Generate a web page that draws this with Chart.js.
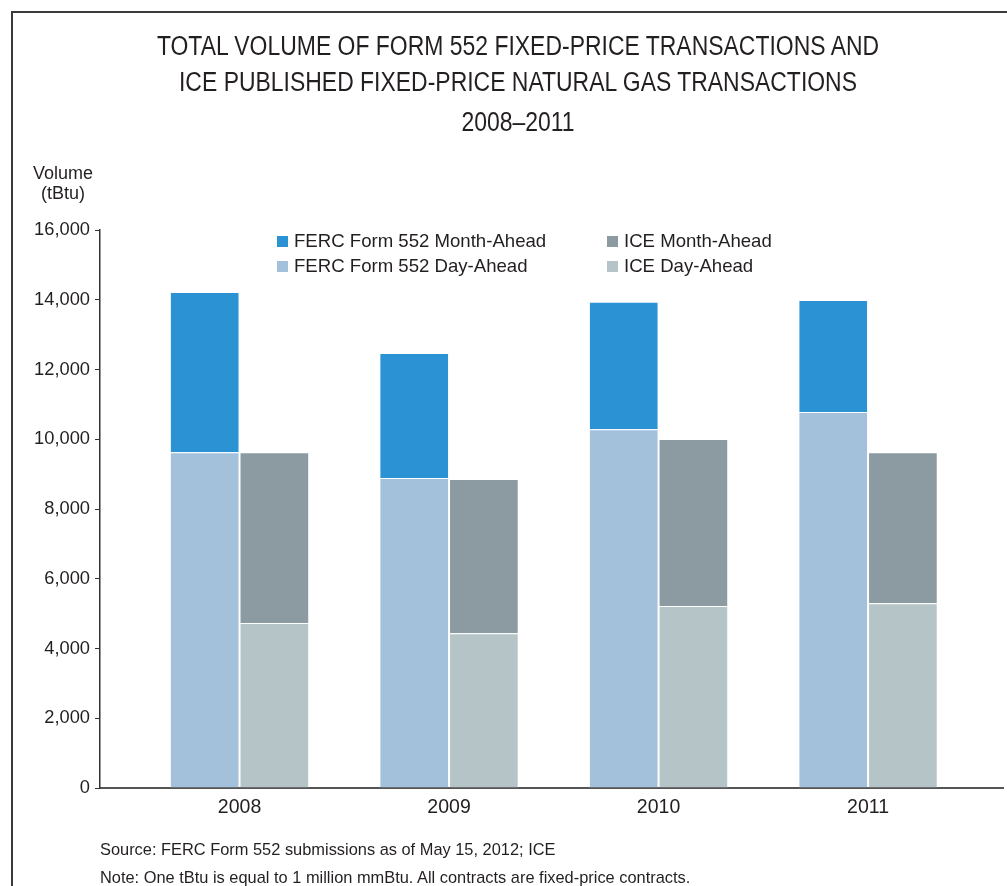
<!DOCTYPE html>
<html>
<head>
<meta charset="utf-8">
<script src="https://cdn.jsdelivr.net/npm/chart.js@4.4.1/dist/chart.umd.min.js"></script>
<style>
  html, body { margin: 0; padding: 0; background: #fff; }
  body { width: 1007px; height: 886px; position: relative; overflow: hidden;
         font-family: "Liberation Sans", Arial, sans-serif; color: #231f20; }
  #frame { position: absolute; left: 11px; top: 11px; width: 1100px; height: 1000px;
           border-top: 2px solid #3a3a3a; border-left: 2px solid #3a3a3a; }
  #wrap { position: absolute; left: 0; top: 0; width: 1007px; height: 886px; }
  /* no narrow font installed, so squeeze the regular one */
  .title { position: absolute; left: 11px; width: 1014px; text-align: center;
           font-size: 27px; line-height: 30px; white-space: nowrap;
           transform: scaleX(0.85); transform-origin: 507px 0; }
  .txt { position: absolute; white-space: nowrap; font-size: 18px; line-height: 20px; }
  .leg { position: absolute; white-space: nowrap; font-size: 18.6px; line-height: 20px; }
  .sw { position: absolute; width: 11px; height: 11px; }
  .small { position: absolute; white-space: nowrap; font-size: 16.4px; line-height: 18px; left: 100px; }
</style>
</head>
<body>
<div id="frame"></div>
<div id="wrap"><canvas id="chart" width="1007" height="886"></canvas></div>

<div class="title" style="top:31px">TOTAL VOLUME OF FORM 552 FIXED-PRICE TRANSACTIONS AND</div>
<div class="title" style="top:67px">ICE PUBLISHED FIXED-PRICE NATURAL GAS TRANSACTIONS</div>
<div class="title" style="top:107px">2008–2011</div>

<div class="txt" style="left:22px;width:82px;text-align:center;top:163px">Volume</div>
<div class="txt" style="left:22px;width:82px;text-align:center;top:183px">(tBtu)</div>

<div id="legend"></div>

<div class="small" style="top:840px">Source: FERC Form 552 submissions as of May 15, 2012; ICE</div>
<div class="small" style="top:868px">Note: One tBtu is equal to 1 million mmBtu. All contracts are fixed-price contracts.</div>

<script>
// years on the x axis
const years = ["2008", "2009", "2010", "2011"];

// FERC Form 552 (tBtu)
const fercDayAhead = [9630, 8890, 10290, 10780];
const fercMonthAhead = [4590, 3580, 3650, 3210];

// ICE published (tBtu)
const iceDayAhead = [4730, 4440, 5220, 5300];
const iceMonthAhead = [4900, 4420, 4790, 4330];

const yTicks = [0, 2000, 4000, 6000, 8000, 10000, 12000, 14000, 16000];

const colors = {
  fercMonth: "#2b92d3",
  fercDay: "#a3c1db",
  iceMonth: "#8c9ba2",
  iceDay: "#b4c4c7"
};

// legend (two columns, as in the original)
const legendItems = [
  { label: "FERC Form 552 Month-Ahead", color: colors.fercMonth, x: 277, y: 241 },
  { label: "FERC Form 552 Day-Ahead", color: colors.fercDay, x: 277, y: 266 },
  { label: "ICE Month-Ahead", color: colors.iceMonth, x: 607, y: 241 },
  { label: "ICE Day-Ahead", color: colors.iceDay, x: 607, y: 266 }
];
const legendEl = document.getElementById("legend");
legendItems.forEach((it) => {
  const sw = document.createElement("div");
  sw.className = "sw";
  sw.style.left = it.x + "px";
  sw.style.top = (it.y - 5) + "px";
  sw.style.background = it.color;
  legendEl.appendChild(sw);
  const t = document.createElement("div");
  t.className = "leg";
  t.style.left = (it.x + 17) + "px";
  t.style.top = (it.y - 10) + "px";
  t.textContent = it.label;
  legendEl.appendChild(t);
});

const pts = (arr) => arr.map((v, i) => ({ x: i, y: v }));

const makeSet = (label, data, color, stack) => ({
  label,
  data: pts(data),
  backgroundColor: color,
  borderColor: "rgba(255,255,255,0.25)",
  borderWidth: 1,
  stack,
  categoryPercentage: 0.665,
  barPercentage: 1
});

new Chart(document.getElementById("chart"), {
  type: "bar",
  data: {
    datasets: [
      makeSet("FERC Form 552 Day-Ahead", fercDayAhead, colors.fercDay, "ferc"),
      makeSet("FERC Form 552 Month-Ahead", fercMonthAhead, colors.fercMonth, "ferc"),
      makeSet("ICE Day-Ahead", iceDayAhead, colors.iceDay, "ice"),
      makeSet("ICE Month-Ahead", iceMonthAhead, colors.iceMonth, "ice")
    ]
  },
  options: {
    responsive: false,
    animation: false,
    layout: { padding: { left: 0, top: 230, right: 4, bottom: 0 } },
    plugins: {
      legend: { display: false },
      tooltip: { enabled: false }
    },
    scales: {
      x: {
        type: "linear",
        offset: false,
        min: -0.666,
        max: 3.644,
        afterFit: (s) => { s.height = 98; },
        afterBuildTicks: (s) => { s.ticks = years.map((y, i) => ({ value: i })); },
        grid: { display: false, drawTicks: false, offset: false },
        border: { display: true, color: "#555", width: 2 },
        ticks: {
          padding: 8,
          color: "#231f20",
          font: { family: "Liberation Sans", size: 19.5 },
          callback: (v) => years[v]
        }
      },
      y: {
        stacked: true,
        min: 0,
        max: 16000,
        afterFit: (s) => { s.width = 100; },
        afterBuildTicks: (s) => { s.ticks = yTicks.map((v) => ({ value: v })); },
        grid: { drawOnChartArea: false, drawTicks: true, tickLength: 5, color: "#333", lineWidth: 1 },
        border: { display: true, color: "#333", width: 1.5 },
        ticks: {
          padding: 5,
          color: "#231f20",
          font: { family: "Liberation Sans", size: 18.3 },
          callback: (v) => v.toLocaleString("en-US")
        }
      }
    }
  }
});
</script>
</body>
</html>
